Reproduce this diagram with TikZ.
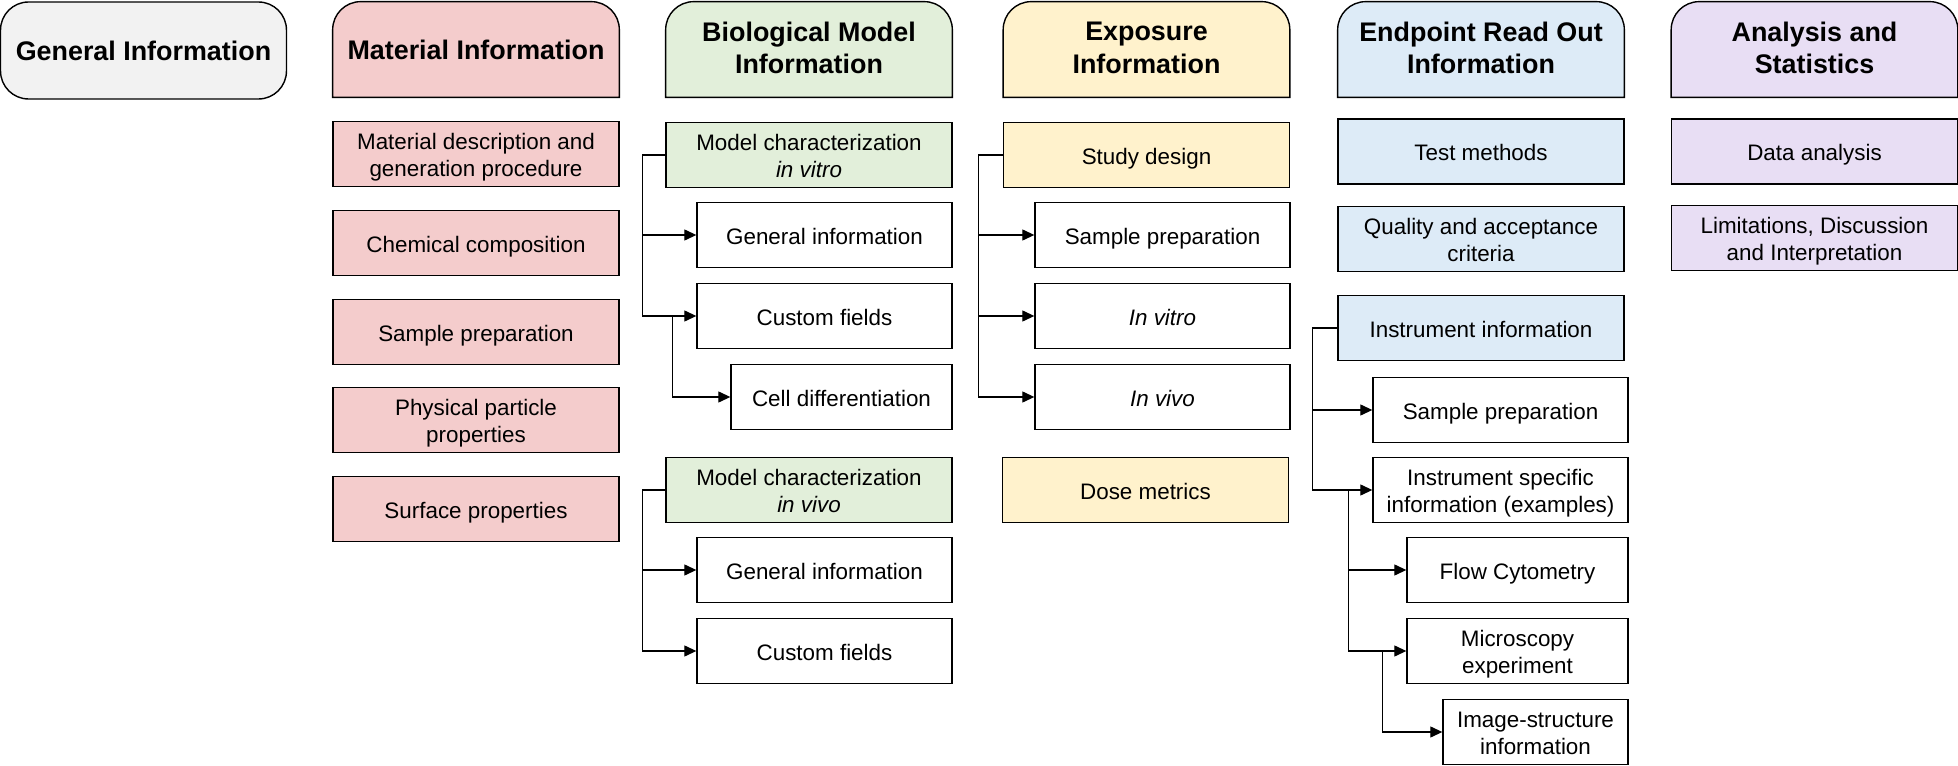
\documentclass[tikz,border=0pt]{standalone}
\usepackage{fontspec}
\setmainfont{Liberation Sans}
\usepackage{tikz}
\usetikzlibrary{calc}
\usetikzlibrary{positioning}
\usetikzlibrary{arrows.meta}
\usetikzlibrary{backgrounds}

\definecolor{genGrey}{HTML}{F2F2F2}
\definecolor{matPink}{HTML}{F4CCCC}
\definecolor{bioGreen}{HTML}{E2EFDA}
\definecolor{expYellow}{HTML}{FFF2CC}
\definecolor{endBlue}{HTML}{DDEBF7}
\definecolor{anaPurple}{HTML}{E8DEF4}

\begin{document}
\begin{tikzpicture}[x=0.02cm, y=-0.02cm,
	box/.style={draw, line width=0.8pt, align=center, minimum height=1.3cm, inner sep=2pt, font=\fontsize{12.75}{15.3}\selectfont,
		execute at begin node={\rule{0pt}{13.3pt}}, execute at end node={\rule[-2.9pt]{0pt}{0pt}}},
	two/.style={execute at begin node={\rule{0pt}{28.6pt}}},
	main/.style={box, minimum width=5.72cm},
	sub/.style={box, fill=white, minimum width=5.1cm},
	subb/.style={box, fill=white, minimum width=4.42cm},
	subc/.style={box, fill=white, minimum width=3.7cm},
	head/.style={align=center, minimum width=5.72cm, minimum height=1.9cm, font=\bfseries\fontsize{15.3}{18.6}\selectfont},
	headtwo/.style={head, execute at end node={\rule[-2pt]{0pt}{0pt}}},
	link/.style={line width=0.7pt, -{Triangle[length=0.24cm, width=0.22cm]}}]
				\useasboundingbox (0,0) rectangle (1958,766);
				
				% headers
				\node[head, draw, fill=genGrey, line width=0.8pt, rounded corners=0.56cm, minimum height=1.94cm] (gen) at (143.5,50.5) {General Information};
				\node[head] (mat) at (476,49.5) {Material Information};
				\node[headtwo] (bio) at (809,49.5) {Biological Model\\Information};
				\node[headtwo] (exp) at (1146.5,49.5) {Exposure\\Information};
				\node[headtwo] (end) at (1481,49.5) {Endpoint Read Out\\Information};
				\node[headtwo] (ana) at (1814.5,49.5) {Analysis and\\Statistics};
				
				% material
				\node[main, two, fill=matPink] (m1) at (476,154) {Material description and\\generation procedure};
				\node[main, fill=matPink] (m2) at (476,243) {Chemical composition};
				\node[main, fill=matPink] (m3) at (476,332) {Sample preparation};
				\node[main, two, fill=matPink] (m4) at (476,420) {Physical particle\\properties};
				\node[main, fill=matPink] (m5) at (476,509) {Surface properties};
				
				% biological model
				\node[main, two, fill=bioGreen] (bvit) at (809,155) {Model characterization\\\textit{in vitro}};
				\node[sub] (bgen1) at (824.5,235) {General information};
				\node[sub] (bcus1) at (824.5,316) {Custom fields};
				\node[subb] (bcell) at (841.5,397) {Cell differentiation};
				\node[main, two, fill=bioGreen] (bviv) at (809,490) {Model characterization\\\textit{in vivo}};
				\node[sub] (bgen2) at (824.5,570) {General information};
				\node[sub] (bcus2) at (824.5,651) {Custom fields};
				
				% exposure
				\node[main, fill=expYellow] (xstu) at (1146.5,155) {Study design};
				\node[sub] (xsam) at (1162.5,235) {Sample preparation};
				\node[sub] (xvit) at (1162.5,316) {\textit{In vitro}};
				\node[sub] (xviv) at (1162.5,397) {\textit{In vivo}};
				\node[main, fill=expYellow] (xdos) at (1145.5,490) {Dose metrics};
				
				% endpoint read out
				\node[main, fill=endBlue] (etes) at (1481,151.5) {Test methods};
				\node[main, two, fill=endBlue] (equa) at (1481,239) {Quality and acceptance\\criteria};
				\node[main, fill=endBlue] (eins) at (1481,328) {Instrument information};
				\node[sub] (esam) at (1500.5,410) {Sample preparation};
				\node[sub, two] (espe) at (1500.5,490) {Instrument specific\\information (examples)};
				\node[subb] (eflo) at (1517.5,570) {Flow Cytometry};
				\node[subb, two] (emic) at (1517.5,651) {Microscopy\\experiment};
				\node[subc, two] (eima) at (1535.5,732) {Image-structure\\information};
				
				% analysis
				\node[main, fill=anaPurple] (adat) at (1814.5,151.5) {Data analysis};
				\node[main, two, fill=anaPurple] (alim) at (1814.5,238) {Limitations, Discussion\\and Interpretation};
				
				% header shapes, rounded on top only
				\begin{scope}[on background layer]
					\foreach \n/\c in {mat/matPink, bio/bioGreen, exp/expYellow, end/endBlue, ana/anaPurple}
						\draw[fill=\c, line width=0.8pt] (\n.south west) -- ([yshift=-0.56cm]\n.north west) arc[start angle=180, end angle=90, radius=0.56cm] -- ([xshift=-0.56cm]\n.north east) arc[start angle=90, end angle=0, radius=0.56cm] -- (\n.south east) -- cycle;
				\end{scope}
				
				\draw[link] (bvit.west) -- ++(-23,0) |- (bgen1.west);
				\draw[link] (bvit.west) -- ++(-23,0) |- (bcus1.west);
				\draw[link] ($(bcus1.west)+(-24,0)$) |- (bcell.west);
				\draw[link] (bviv.west) -- ++(-23,0) |- (bgen2.west);
				\draw[link] (bviv.west) -- ++(-23,0) |- (bcus2.west);
				
				\draw[link] (xstu.west) -- ++(-24,0) |- (xsam.west);
				\draw[link] (xstu.west) -- ++(-24,0) |- (xvit.west);
				\draw[link] (xstu.west) -- ++(-24,0) |- (xviv.west);
				
				\draw[link] (eins.west) -- ++(-25,0) |- (esam.west);
				\draw[link] (eins.west) -- ++(-25,0) |- (espe.west);
				\draw[link] ($(espe.west)+(-24,0)$) |- (eflo.west);
				\draw[link] ($(espe.west)+(-24,0)$) |- (emic.west);
				\draw[link] ($(emic.west)+(-24,0)$) |- (eima.west);
			\end{tikzpicture}
\end{document}
